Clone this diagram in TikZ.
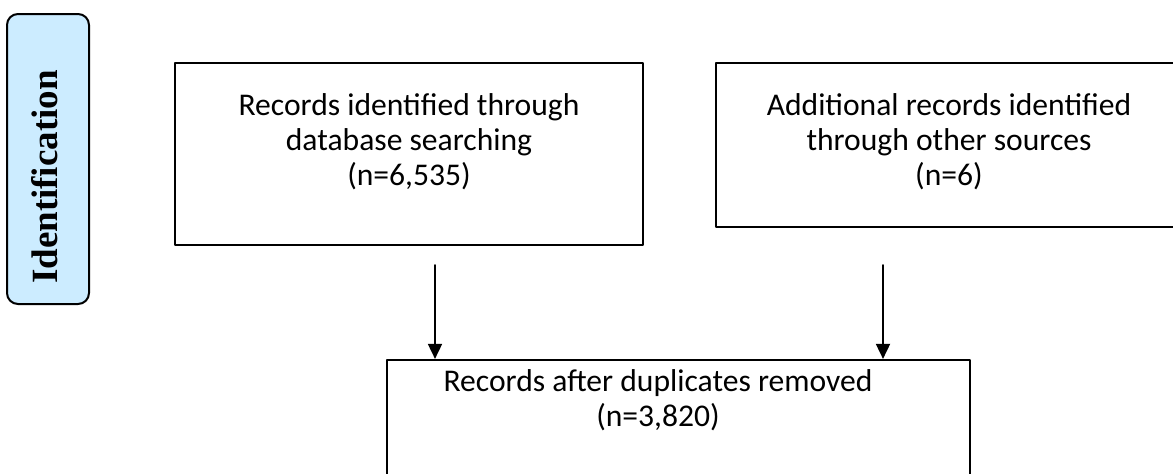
\documentclass[tikz,border=0pt]{standalone}
\usepackage{fontspec}
\setmainfont{Carlito}
\newfontfamily\identfont{Liberation Serif}
\usepackage{tikz}
\usetikzlibrary{shapes,arrows,arrows.meta,calc,positioning}
\definecolor{identblue}{RGB}{204,236,255}
\tikzset{
	recbox/.style={draw=black,line width=2.6pt,inner sep=0pt},
	rectext/.style={align=center,font=\fontsize{31.6}{35}\selectfont,inner sep=0pt},
	identbox/.style={draw=black,line width=2pt,fill=identblue,rounded corners=11pt,inner sep=0pt},
	identtext/.style={rotate=90,font=\fontsize{37}{42}\identfont\bfseries,inner sep=0pt}
}

\begin{document}
\begin{tikzpicture}[x=1pt,y=-1pt,line cap=round,line join=round,>={Triangle[width=14pt,length=15pt]}]
	\useasboundingbox (0,0) rectangle (1173,474);
	% phase label on the left
	\node[identbox,minimum width=82pt,minimum height=290pt] (ident) at (48,159) {};
	\node[identtext] (identlabel) at (45,177) {Identification};
	% the two sources
	\node[recbox,minimum width=468pt,minimum height=182pt] (dbsearch) at (409,154) {};
	\node[rectext] (dbsearchtext) at (409,142) {Records identified through\\database searching\\(n=6,535)};
	\node[recbox,minimum width=466pt,minimum height=164pt] (other) at (949,145) {};
	\node[rectext] (othertext) at (949,142) {Additional records identified\\through other sources\\(n=6)};
	% after duplicates
	\node[recbox,line width=2.2pt,minimum width=583pt,minimum height=150pt] (dedup) at (678.5,435) {};
	\node[rectext] (deduptext) at (658,400) {Records after duplicates removed\\(n=3,820)};
	\coordinate (dbarrow) at (435,265);
	\coordinate (otherarrow) at (883,265);
	\draw[->,line width=1.8pt] (dbarrow) -- (dbarrow |- dedup.north);
	\draw[->,line width=1.8pt] (otherarrow) -- (otherarrow |- dedup.north);
\end{tikzpicture}
\end{document}
